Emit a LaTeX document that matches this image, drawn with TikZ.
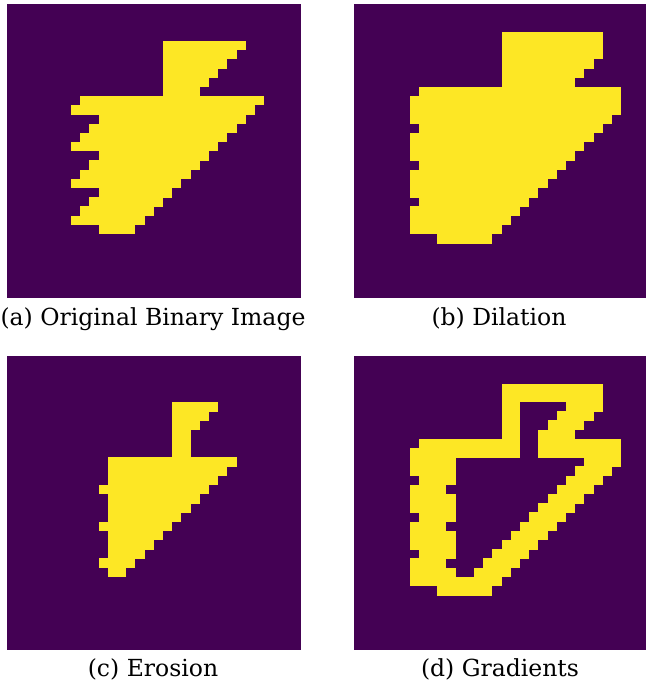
\documentclass[tikz,border=0pt]{standalone}
\usepackage{fontspec}
\setmainfont{DejaVu Serif}
\definecolor{vpurple}{HTML}{440154}
\definecolor{vyellow}{HTML}{FDE725}
\newcommand{\pixpanel}[3]{%
  \fill[vpurple] (#1,#2) rectangle ++(294.4,294.4);
  \foreach \rr/\ca/\cb in {#3}
    \fill[vyellow] ({#1+\ca*9.2},{#2+\rr*9.2}) rectangle ({#1+\cb*9.2},{#2+(\rr+1)*9.2+0.3});
}
\tikzset{lbl/.style={anchor=base, inner sep=0pt, font=\fontsize{23.5}{28}\selectfont}}
\begin{document}
\begin{tikzpicture}[x=1pt,y=-1pt]
\useasboundingbox (0,0) rectangle (645,687);
% (a) original
\pixpanel{6.5}{4}{4/17/26,5/17/25,6/17/24,7/17/23,8/17/22,9/17/21,10/8/28,11/7/27,12/10/26,13/9/25,14/8/24,15/7/23,16/10/22,17/9/21,18/8/20,19/7/19,20/10/18,21/9/17,22/8/16,23/7/15,24/10/14}
% (b) dilation
\pixpanel{354.3}{4}{3/16/27,4/16/27,5/16/27,6/16/26,7/16/25,8/16/24,9/7/29,10/6/29,11/6/29,12/6/28,13/7/27,14/6/26,15/6/25,16/6/24,17/7/23,18/6/22,19/6/21,20/6/20,21/7/19,22/6/18,23/6/17,24/6/16,25/9/15}
% (c) erosion
\pixpanel{6.5}{356}{5/18/23,6/18/22,7/18/21,8/18/20,9/18/20,10/18/20,11/11/25,12/11/24,13/11/23,14/10/22,15/11/21,16/11/20,17/11/19,18/10/18,19/11/17,20/11/16,21/11/15,22/10/14,23/11/13}
% (d) gradients
\pixpanel{354.3}{356}{3/16/27,4/16/27,5/16/18,5/23/27,6/16/18,6/22/26,7/16/18,7/21/25,8/16/18,8/20/24,9/7/18,9/20/29,10/6/18,10/20/29,11/6/11,11/25/29,12/6/11,12/24/28,13/7/11,13/23/27,14/6/10,14/22/26,15/6/11,15/21/25,16/6/11,16/20/24,17/7/11,17/19/23,18/6/10,18/18/22,19/6/11,19/17/21,20/6/11,20/16/20,21/7/11,21/15/19,22/6/10,22/14/18,23/6/11,23/13/17,24/6/16,25/9/15}
\node[lbl] (la) at (153,325) {(a) Original Binary Image};
\node[lbl] (lb) at (499,325) {(b) Dilation};
\node[lbl] (lc) at (153,676) {(c) Erosion};
\node[lbl] (ld) at (500,676) {(d) Gradients};
\end{tikzpicture}
\end{document}
